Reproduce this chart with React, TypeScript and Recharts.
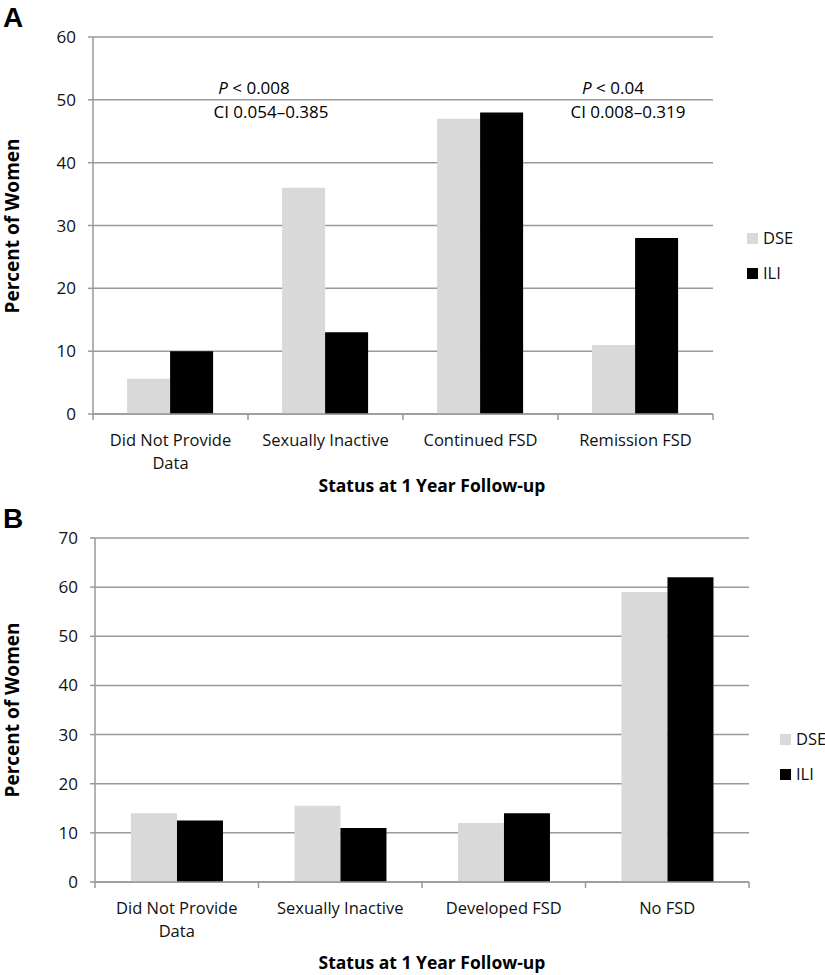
import { BarChart, Bar, XAxis, YAxis, CartesianGrid, Customized } from 'recharts';

const categoriesA = ['Did Not Provide\nData', 'Sexually Inactive', 'Continued FSD', 'Remission FSD'];
const dseA = [5.6, 36, 47, 11];
const iliA = [10, 13, 48, 28];
const ticksA = [0, 10, 20, 30, 40, 50, 60];

const categoriesB = ['Did Not Provide\nData', 'Sexually Inactive', 'Developed FSD', 'No FSD'];
const dseB = [14, 15.5, 12, 59];
const iliB = [12.5, 11, 14, 62];
const ticksB = [0, 10, 20, 30, 40, 50, 60, 70];

const seriesNames = ['DSE', 'ILI'];

const DSE_COLOR = '#d9d9d9';
const ILI_COLOR = '#000000';
const GRID = '#999999';
const FONT = '"Open Sans", sans-serif';

const dataA = categoriesA.map((c, i) => ({ name: c, DSE: dseA[i], ILI: iliA[i] }));
const dataB = categoriesB.map((c, i) => ({ name: c, DSE: dseB[i], ILI: iliB[i] }));

const makeTick = (band: number, count: number) => (props: any) => {
  const { x, y, payload, index } = props;
  const lines = String(payload.value).split('\n');
  return (
    <g>
      <line x1={x - band / 2} x2={x - band / 2} y1={y} y2={y + 6} stroke={GRID} strokeWidth={1.5} />
      {index === count - 1 && (
        <line x1={x + band / 2} x2={x + band / 2} y1={y} y2={y + 6} stroke={GRID} strokeWidth={1.5} />
      )}
      {lines.map((l, i) => (
        <text key={i} x={x} y={y + 32 + i * 23} textAnchor="middle" fontSize={16.5} fontFamily={FONT} fill="#111">
          {l}
        </text>
      ))}
    </g>
  );
};

function Panel({
  data,
  ticks,
  max,
  height,
  margin,
  xHeight,
  band,
  letter,
  letterY,
  yLabelY,
  titleY,
  legendPos,
  notes,
}: any) {
  const colors = [DSE_COLOR, ILI_COLOR];
  return (
    <BarChart width={825} height={height} data={data} margin={margin} barCategoryGap="22%" barGap={0}>
      <CartesianGrid vertical={false} stroke={GRID} strokeWidth={1.5} />
      <XAxis
        dataKey="name"
        height={xHeight}
        axisLine={{ stroke: GRID, strokeWidth: 1.5 }}
        tickLine={false}
        tickSize={0}
        tickMargin={0}
        interval={0}
        tick={makeTick(band, data.length)}
      />
      <YAxis
        width={60}
        domain={[0, max]}
        ticks={ticks}
        axisLine={{ stroke: GRID, strokeWidth: 1.5 }}
        tickLine={{ stroke: GRID, strokeWidth: 1.5 }}
        tickSize={5}
        tickMargin={12}
        tick={{ fontSize: 17, fontFamily: FONT, fill: '#111' }}
      />
      <Bar dataKey="DSE" fill={DSE_COLOR} isAnimationActive={false} />
      <Bar dataKey="ILI" fill={ILI_COLOR} isAnimationActive={false} />
      <Customized
        component={() => (
          <g>
            <text x={3} y={letterY} fontSize={28} fontWeight="bold" fontFamily="'Liberation Sans', Arial, sans-serif">
              {letter}
            </text>
            <text
              x={0}
              y={0}
              transform={`translate(19, ${yLabelY}) rotate(-90)`}
              textAnchor="middle"
              fontSize={19}
              fontWeight="bold"
              fontFamily={FONT}
            >
              Percent of Women
            </text>
            <text x={432} y={titleY} textAnchor="middle" fontSize={17.5} fontWeight="bold" fontFamily={FONT}>
              Status at 1 Year Follow-up
            </text>
            {seriesNames.map((s, i) => (
              <g key={s}>
                <rect x={legendPos[0]} y={legendPos[1] + i * 35} width={11} height={11} fill={colors[i]} />
                <text x={legendPos[0] + 16} y={legendPos[1] + i * 35 + 11} fontSize={16.5} fontFamily={FONT} fill="#111">
                  {s}
                </text>
              </g>
            ))}
            {notes.map((n: any, i: number) => (
              <g key={i}>
                <text x={n.x} y={n.y} textAnchor="middle" fontSize={17} fontFamily={FONT}>
                  <tspan fontStyle="italic">P</tspan> &lt; {n.p}
                </text>
                <text x={n.x2} y={n.y + 24} textAnchor="middle" fontSize={17} fontFamily={FONT}>
                  CI {n.ci}
                </text>
              </g>
            ))}
          </g>
        )}
      />
    </BarChart>
  );
}

export default function App() {
  return (
    <div style={{ position: 'absolute', left: 0, top: 0, width: 825, height: 975, background: '#fff' }}>
      <Panel
        data={dataA}
        ticks={ticksA}
        max={60}
        height={500}
        margin={{ top: 37, right: 112, left: 33, bottom: 0 }}
        xHeight={86}
        band={155}
        letter="A"
        letterY={27}
        yLabelY={226}
        titleY={492}
        legendPos={[747, 233]}
        notes={[
          { x: 254, x2: 271, y: 94, p: '0.008', ci: '0.054–0.385' },
          { x: 613, x2: 628, y: 94, p: '0.04', ci: '0.008–0.319' },
        ]}
      />
      <Panel
        data={dataB}
        ticks={ticksB}
        max={70}
        height={475}
        margin={{ top: 38, right: 76, left: 35, bottom: 0 }}
        xHeight={93}
        band={163.5}
        letter="B"
        letterY={28}
        yLabelY={210}
        titleY={469}
        legendPos={[780, 234]}
        notes={[]}
      />
    </div>
  );
}
